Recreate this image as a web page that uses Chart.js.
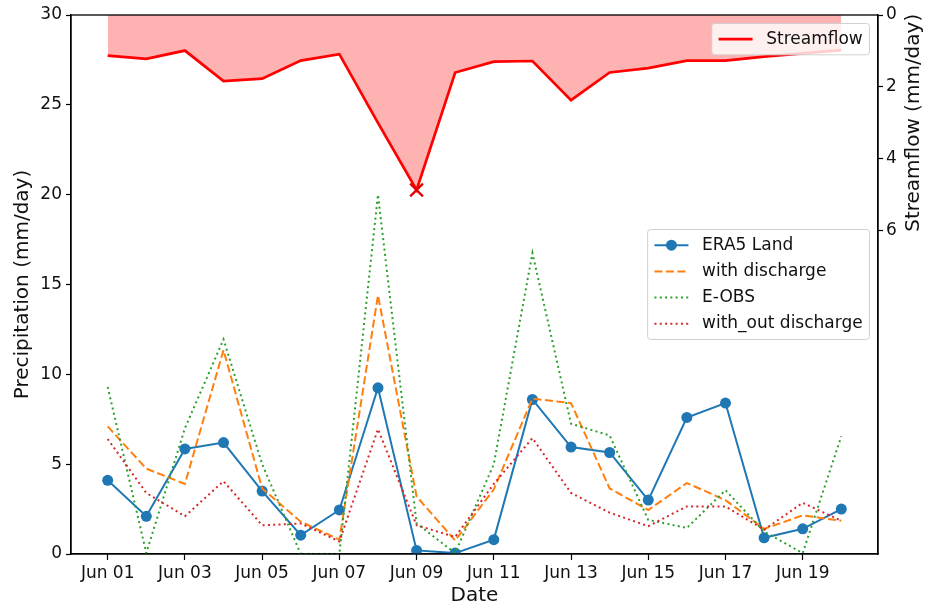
<!DOCTYPE html>
<html>
<head>
<meta charset="utf-8">
<script src="https://cdn.jsdelivr.net/npm/chart.js@4.4.0/dist/chart.umd.min.js"></script>
<style>
  body{margin:0;background:#fff;}
</style>
</head>
<body>
<canvas id="chart" width="925" height="609"></canvas>
<script>
// ---------------- DATA ----------------
const days = ["Jun 01","Jun 02","Jun 03","Jun 04","Jun 05","Jun 06","Jun 07","Jun 08","Jun 09","Jun 10",
              "Jun 11","Jun 12","Jun 13","Jun 14","Jun 15","Jun 16","Jun 17","Jun 18","Jun 19","Jun 20"];

const era5Land         = [4.1, 2.1, 5.85, 6.2, 3.5, 1.05, 2.45, 9.25, 0.2, 0.05, 0.8, 8.6, 5.95, 5.65, 3.0, 7.6, 8.4, 0.9, 1.4, 2.5];
const withDischarge    = [7.1, 4.75, 3.9, 11.35, 3.65, 1.8, 0.8, 14.4, 3.2, 0.75, 3.6, 8.65, 8.4, 3.65, 2.45, 3.95, 3.0, 1.4, 2.15, 1.85];
const eObs             = [9.3, 0.05, 7.0, 11.95, 5.0, 0.0, 0.0, 20.0, 1.7, 0.05, 5.0, 16.75, 7.25, 6.6, 1.9, 1.45, 3.55, 1.25, 0.05, 6.55];
const withoutDischarge = [6.4, 3.4, 2.1, 4.05, 1.6, 1.7, 0.7, 6.95, 1.6, 0.95, 3.9, 6.45, 3.4, 2.3, 1.55, 2.65, 2.65, 1.35, 2.85, 1.85];
const streamflow       = [1.13, 1.22, 0.99, 1.84, 1.77, 1.27, 1.09, 3.0, 4.87, 1.6, 1.3, 1.28, 2.37, 1.6, 1.48, 1.27, 1.27, 1.16, 1.07, 0.98];

const dateTickLabels = ["Jun 01","Jun 03","Jun 05","Jun 07","Jun 09","Jun 11","Jun 13","Jun 15","Jun 17","Jun 19"];
const precipTicks = [0, 5, 10, 15, 20, 25, 30];
const flowTicks = [0, 2, 4, 6];

// ---------------- SETUP ----------------
Chart.defaults.font.family = "'DejaVu Sans', sans-serif";
Chart.defaults.color = "#111";

const FS = 17;      // tick + legend font size
const TITLE_FS = 20;

const pts = arr => arr.map((v, i) => ({ x: i, y: v }));
const peakIdx = streamflow.indexOf(Math.max(...streamflow));

function axisGrid(len){
  return { drawOnChartArea:false, drawTicks:true, tickLength:len, color:"#000", tickWidth:1.2 };
}

// legend box in matplotlib style
function drawLegend(ctx, area, items, where){
  ctx.save();
  ctx.font = FS + "px 'DejaVu Sans'";
  const pad = 0.4*FS, handle = 2*FS, gap = 0.8*FS, rowH = 17.7, spacing = 0.5*FS;
  const textW = Math.max(...items.map(it => ctx.measureText(it.label).width));
  const w = pad*2 + handle + gap + textW;
  const h = pad*2 + items.length*rowH + (items.length-1)*spacing;
  const right = area.right - 0.5*FS;
  const left = right - w;
  const top = where === "top" ? area.top + 0.5*FS : (area.top + area.bottom)/2 - h/2;

  ctx.fillStyle = "rgba(255,255,255,0.8)";
  ctx.strokeStyle = "#d0d0d0";
  ctx.lineWidth = 1;
  ctx.beginPath();
  ctx.roundRect(left, top, w, h, 3);
  ctx.fill();
  ctx.stroke();

  items.forEach((it, i) => {
    const cy = top + pad + i*(rowH + spacing) + rowH/2;
    ctx.strokeStyle = it.borderColor;
    ctx.lineWidth = it.borderWidth;
    ctx.setLineDash(it.borderDash || []);
    ctx.beginPath();
    ctx.moveTo(left + pad, cy);
    ctx.lineTo(left + pad + handle, cy);
    ctx.stroke();
    ctx.setLineDash([]);
    if(it.legendMarker){
      ctx.fillStyle = it.borderColor;
      ctx.beginPath();
      ctx.arc(left + pad + handle/2, cy, it.legendMarker, 0, Math.PI*2);
      ctx.fill();
    }
    ctx.fillStyle = "#111";
    ctx.textAlign = "left";
    ctx.textBaseline = "middle";
    ctx.fillText(it.label, left + pad + handle + gap, cy);
  });
  ctx.restore();
}

const framePlugin = {
  id:"frame",
  afterDatasetsDraw(chart){
    const a = chart.chartArea, ctx = chart.ctx;
    ctx.save();
    ctx.strokeStyle = "#000";
    ctx.lineWidth = 1.3;
    ctx.strokeRect(a.left, a.top, a.right - a.left, a.bottom - a.top);
    ctx.restore();
  }
};

const titlesPlugin = {
  id:"titles",
  afterDraw(chart){
    const a = chart.chartArea, ctx = chart.ctx;
    const y2 = chart.scales.y2;
    ctx.save();
    ctx.font = TITLE_FS + "px 'DejaVu Sans'";
    ctx.fillStyle = "#111";
    ctx.textAlign = "center";
    ctx.textBaseline = "middle";

    ctx.fillText("Date", (a.left + a.right)/2, a.bottom + 42);

    ctx.save();
    ctx.translate(23, (a.top + a.bottom)/2);
    ctx.rotate(-Math.PI/2);
    ctx.fillText("Precipitation (mm/day)", 0, 0);
    ctx.restore();

    // right label is centred on the shown streamflow ticks
    const mid = (y2.getPixelForValue(flowTicks[0]) + y2.getPixelForValue(flowTicks[flowTicks.length-1]))/2;
    ctx.save();
    ctx.translate(a.right + 36, mid);
    ctx.rotate(-Math.PI/2);
    ctx.fillText("Streamflow (mm/day)", 0, 0);
    ctx.restore();
    ctx.restore();

    const ds = chart.data.datasets;
    drawLegend(ctx, a, ds.filter(d => d.yAxisID === "y2"), "top");
    drawLegend(ctx, a, ds.filter(d => d.yAxisID !== "y2"), "center");
  }
};

// ---------------- CHART ----------------
new Chart(document.getElementById("chart"), {
  type:"line",
  data:{
    datasets:[
      {
        label:"ERA5 Land", data:pts(era5Land), yAxisID:"y",
        borderColor:"#1f77b4", backgroundColor:"#1f77b4", borderWidth:2,
        pointRadius:5.5, pointBorderWidth:0, legendMarker:5.5, order:4
      },
      {
        label:"with discharge", data:pts(withDischarge), yAxisID:"y",
        borderColor:"#ff7f0e", borderWidth:2, borderDash:[8,3.5], pointRadius:0, order:3
      },
      {
        label:"E-OBS", data:pts(eObs), yAxisID:"y",
        borderColor:"#2ca02c", borderWidth:2, borderDash:[2,3.3], pointRadius:0, order:2
      },
      {
        label:"with_out discharge", data:pts(withoutDischarge), yAxisID:"y",
        borderColor:"#d62728", borderWidth:2, borderDash:[2,3.3], pointRadius:0, order:1
      },
      {
        label:"Streamflow", data:pts(streamflow), yAxisID:"y2",
        borderColor:"#ff0000", borderWidth:2.7, backgroundColor:"rgba(255,0,0,0.3)",
        fill:{ value:0 },
        pointStyle:"crossRot", pointBorderWidth:2.2, pointBorderColor:"#e00000",
        pointRadius:c => c.dataIndex === peakIdx ? 9 : 0, order:0
      }
    ]
  },
  options:{
    responsive:false,
    animation:false,
    layout:{ padding:{ top:15, left:0, right:0, bottom:0 } },
    plugins:{ legend:{ display:false }, tooltip:{ enabled:false } },
    elements:{ line:{ tension:0 } },
    scales:{
      x:{
        type:"linear", position:"bottom", min:-0.95, max:19.95,
        afterBuildTicks:s => { s.ticks = dateTickLabels.map(l => ({ value:days.indexOf(l) })); },
        ticks:{ callback:v => days[v], font:{ size:FS }, padding:3, maxRotation:0, autoSkip:false },
        grid:axisGrid(6),
        border:{ color:"#000", width:1.3 },
        afterFit:s => { s.height = 55; }
      },
      y:{
        position:"left", min:0, max:30,
        afterBuildTicks:s => { s.ticks = precipTicks.map(v => ({ value:v })); },
        ticks:{ font:{ size:FS }, padding:4 },
        grid:axisGrid(5),
        border:{ color:"#000", width:1.3 },
        afterFit:s => { s.width = 71; }
      },
      y2:{
        position:"right", reverse:true, min:0, max:15,
        afterBuildTicks:s => { s.ticks = flowTicks.map(v => ({ value:v })); },
        ticks:{ font:{ size:FS }, padding:3 },
        grid:axisGrid(5),
        border:{ color:"#000", width:1.3 },
        afterFit:s => { s.width = 47; }
      }
    }
  },
  plugins:[framePlugin, titlesPlugin]
});
</script>
</body>
</html>
